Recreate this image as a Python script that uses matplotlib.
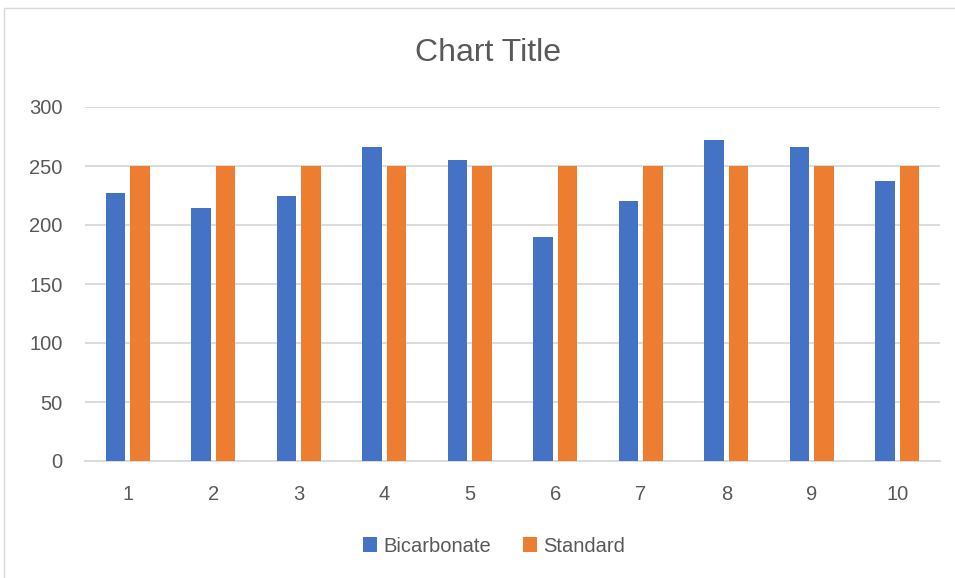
import numpy as np
import matplotlib.pyplot as plt
from matplotlib.patches import Rectangle

# ------- data
categories = ['1', '2', '3', '4', '5', '6', '7', '8', '9', '10']
bicarbonate = [227, 214, 225, 266, 255, 190, 220, 272, 266, 237]
standard = [250, 250, 250, 250, 250, 250, 250, 250, 250, 250]

blue = '#4472C4'
orange = '#ED7D31'
grey_txt = '#595959'
grid_col = '#D9D9D9'

plt.rcParams['font.family'] = ['Liberation Sans', 'DejaVu Sans']

fig = plt.figure(figsize=(9.55, 5.78), dpi=100)
ax = fig.add_axes([85/955, 1-461/578, 855/955, (461-107)/578])

x = np.arange(len(categories))
w = 0.228
off = 0.143
ax.bar(x - off, bicarbonate, width=w, color=blue, label='Bicarbonate', zorder=3)
ax.bar(x + off, standard, width=w, color=orange, label='Standard', zorder=3)

ax.set_xlim(-0.5, len(categories) - 0.5)
ax.set_ylim(0, 300)
ax.set_yticks(np.arange(0, 301, 50))
ax.set_xticks(x)
ax.set_xticklabels(categories)
ax.grid(axis='y', color=grid_col, linewidth=1.3, zorder=0)
for s in ['top', 'right', 'left']:
    ax.spines[s].set_visible(False)
ax.spines['bottom'].set_color(grid_col)
ax.spines['bottom'].set_linewidth(1.3)
ax.tick_params(axis='both', length=0, labelsize=14.5, colors=grey_txt)
ax.tick_params(axis='y', pad=16)
ax.tick_params(axis='x', pad=17)

fig.text(488/955, 1-53/578, 'Chart Title', ha='center', va='center',
         fontsize=23, color=grey_txt)

fig.legend(loc='center', bbox_to_anchor=(494/955, 1-546/578), ncol=2,
           frameon=False, fontsize=14.5, labelcolor=grey_txt,
           handlelength=0.7, handleheight=0.7, handletextpad=0.3,
           columnspacing=1.6)

# chart border
fig.patches.append(Rectangle((4/955, -0.01), 1.0, 1-8/578+0.01,
                             transform=fig.transFigure, fill=False,
                             edgecolor=grid_col, linewidth=1.0))

fig.savefig('out.png', dpi=100)
